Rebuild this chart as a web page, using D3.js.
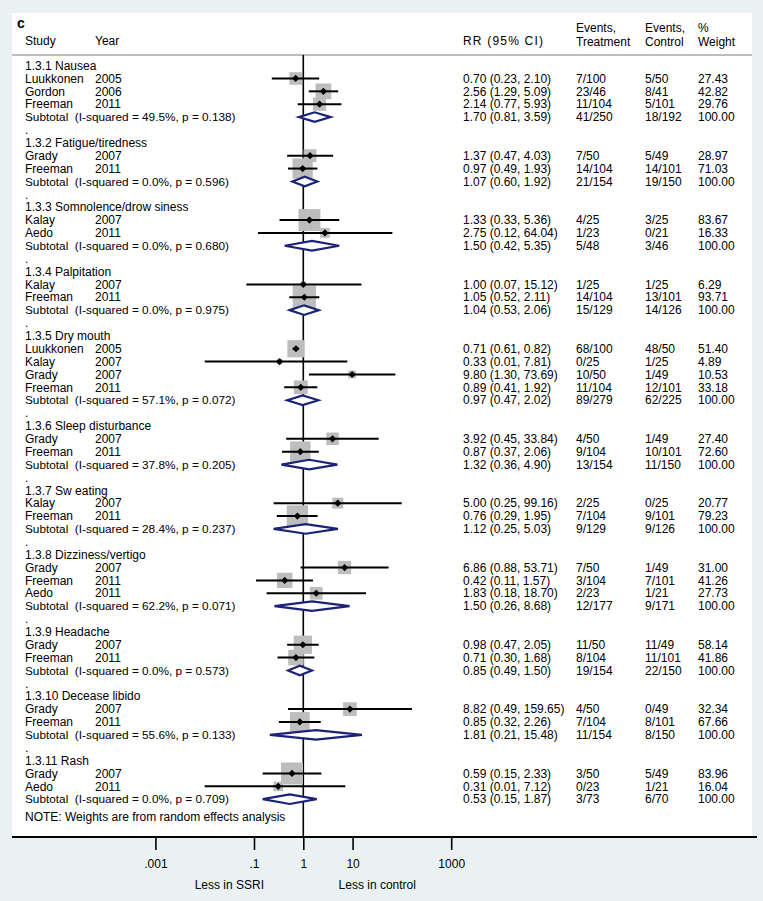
<!DOCTYPE html>
<html><head><meta charset="utf-8">
<script src="https://cdn.jsdelivr.net/npm/d3@7"></script>
<style>
body{margin:0;background:#eaf1f3}
svg{display:block}
text{font-family:"Liberation Sans",Arial,Helvetica,sans-serif;font-size:12px;fill:#000;white-space:pre}
</style>
</head><body>
<svg id="chart" width="763" height="901"></svg>
<script>
// ---------- DATA ----------
const groupLabels = ["1.3.1 Nausea","1.3.2 Fatigue/tiredness","1.3.3 Somnolence/drow siness","1.3.4 Palpitation","1.3.5 Dry mouth","1.3.6 Sleep disturbance","1.3.7 Sw eating","1.3.8 Dizziness/vertigo","1.3.9 Headache","1.3.10 Decease libido","1.3.11 Rash"];
const groupI2 = ["49.5%","0.0%","0.0%","0.0%","57.1%","37.8%","28.4%","62.2%","0.0%","55.6%","0.0%"];
const groupP = ["0.138","0.596","0.680","0.975","0.072","0.205","0.237","0.071","0.573","0.133","0.709"];
const subRR = [1.70,1.07,1.50,1.04,0.97,1.32,1.12,1.50,0.85,1.81,0.53];
const subLo = [0.81,0.60,0.42,0.53,0.47,0.36,0.25,0.26,0.49,0.21,0.15];
const subHi = [3.59,1.92,5.35,2.06,2.02,4.90,5.03,8.68,1.50,15.48,1.87];
const subEvT = ["41/250","21/154","5/48","15/129","89/279","13/154","9/129","12/177","19/154","11/154","3/73"];
const subEvC = ["18/192","19/150","3/46","14/126","62/225","11/150","9/126","9/171","22/150","8/150","6/70"];

const studyGroup = [0,0,0, 1,1, 2,2, 3,3, 4,4,4,4, 5,5, 6,6, 7,7,7, 8,8, 9,9, 10,10];
const studyName = ["Luukkonen","Gordon","Freeman","Grady","Freeman","Kalay","Aedo","Kalay","Freeman","Luukkonen","Kalay","Grady","Freeman","Grady","Freeman","Kalay","Freeman","Grady","Freeman","Aedo","Grady","Freeman","Grady","Freeman","Grady","Aedo"];
const studyYear = ["2005","2006","2011","2007","2011","2007","2011","2007","2011","2005","2007","2007","2011","2007","2011","2007","2011","2007","2011","2011","2007","2011","2007","2011","2007","2011"];
const studyRR = [0.70,2.56,2.14,1.37,0.97,1.33,2.75,1.00,1.05,0.71,0.33,9.80,0.89,3.92,0.87,5.00,0.76,6.86,0.42,1.83,0.98,0.71,8.82,0.85,0.59,0.31];
const studyLo = [0.23,1.29,0.77,0.47,0.49,0.33,0.12,0.07,0.52,0.61,0.01,1.30,0.41,0.45,0.37,0.25,0.29,0.88,0.11,0.18,0.47,0.30,0.49,0.32,0.15,0.01];
const studyHi = [2.10,5.09,5.93,4.03,1.93,5.36,64.04,15.12,2.11,0.82,7.81,73.69,1.92,33.84,2.06,99.16,1.95,53.71,1.57,18.70,2.05,1.68,159.65,2.26,2.33,7.12];
const studyEvT = ["7/100","23/46","11/104","7/50","14/104","4/25","1/23","1/25","14/104","68/100","0/25","10/50","11/104","4/50","9/104","2/25","7/104","7/50","3/104","2/23","11/50","8/104","4/50","7/104","3/50","0/23"];
const studyEvC = ["5/50","8/41","5/101","5/49","14/101","3/25","0/21","1/25","13/101","48/50","1/25","1/49","12/101","1/49","10/101","0/25","9/101","1/49","7/101","1/21","11/49","11/101","0/49","8/101","5/49","1/21"];
const studyWeight = [27.43,42.82,29.76,28.97,71.03,83.67,16.33,6.29,93.71,51.40,4.89,10.53,33.18,27.40,72.60,20.77,79.23,31.00,41.26,27.73,58.14,41.86,32.34,67.66,83.96,16.04];

const tickValues = [0.001,0.1,1,10,1000];
const tickLabels = [".001",".1","1","10","1000"];

// ---------- BUILD ROWS ----------
const rows = [];
groupLabels.forEach((g, gi) => {
  if (gi > 0) rows.push({type:"dot"});
  rows.push({type:"head", label:g});
  studyGroup.forEach((sg, i) => { if (sg === gi) rows.push({type:"study", i}); });
  rows.push({type:"sub", gi});
});

// ---------- LAYOUT ----------
const svg = d3.select("#chart");
const panel = {x0:12, x1:752, y0:13, y1:837};
const x = d3.scaleLog().domain([0.001, 1000]).range([155.4, 451.2]);
const y = d3.scaleLinear().domain([0, 1]).range([65.6, 65.6 + 12.87]);
const box = d3.scaleSqrt().domain([0, 100]).range([0, 24]);
const col = {study:25, year:95, rr:463, evT:576, evC:645, wt:698};
const navy = "#1a2379";

svg.append("rect").attr("x",0).attr("y",0).attr("width",763).attr("height",901).attr("fill","#eaf1f3");
svg.append("rect").attr("x",panel.x0).attr("y",panel.y0).attr("width",panel.x1-panel.x0).attr("height",panel.y1-panel.y0).attr("fill","#fff");

// headers
const T = (xx, yy, s, anchor) => svg.append("text").attr("x",xx).attr("y",yy).attr("dy","0.35em").attr("text-anchor",anchor||"start").text(s);
T(17, 23, "c").style("font-weight","bold").style("font-size","14px");
T(col.study, 41, "Study");
T(col.year, 41, "Year");
T(col.rr, 41, "RR (95% CI)").style("letter-spacing","1.2px");
T(col.evT, 28, "Events,"); T(col.evT, 42, "Treatment");
T(col.evC, 28, "Events,"); T(col.evC, 42, "Control");
T(col.wt, 28, "%"); T(col.wt, 42, "Weight");
svg.append("line").attr("x1",panel.x0).attr("x2",panel.x1).attr("y1",55).attr("y2",55).attr("stroke","#bdbdbd").attr("stroke-width",2);

const fmt = d3.format(".2f");
const ci = (r,l,h) => `${fmt(r)} (${fmt(l)}, ${fmt(h)})`;

// null line
svg.append("line").attr("x1",x(1)).attr("x2",x(1)).attr("y1",55).attr("y2",panel.y1).attr("stroke","#000").attr("stroke-width",1.6);

const g = svg.append("g");
rows.forEach((r, k) => {
  const yy = y(k);
  if (r.type === "dot") { T(col.study, yy, "."); return; }
  if (r.type === "head") { T(col.study, yy, r.label); return; }
  if (r.type === "study") {
    const i = r.i;
    T(col.study, yy, studyName[i]);
    T(col.year, yy, studyYear[i]);
    T(col.rr, yy, ci(studyRR[i], studyLo[i], studyHi[i]));
    T(col.evT, yy, studyEvT[i]);
    T(col.evC, yy, studyEvC[i]);
    T(col.wt, yy, fmt(studyWeight[i]));
    const s = box(studyWeight[i]);
    g.append("rect").attr("x", x(studyRR[i]) - s/2).attr("y", yy - s/2).attr("width", s).attr("height", s).attr("fill","#bdbdbd");
    r.yy = yy;
    return;
  }
  if (r.type === "sub") {
    const gi = r.gi;
    T(col.study, yy, `Subtotal  (I-squared = ${groupI2[gi]}, p = ${groupP[gi]})`).style("font-size","11.8px");
    T(col.rr, yy, ci(subRR[gi], subLo[gi], subHi[gi]));
    T(col.evT, yy, subEvT[gi]);
    T(col.evC, yy, subEvC[gi]);
    T(col.wt, yy, "100.00");
    const h = 4.8;
    svg.append("path")
      .attr("d", `M${x(subLo[gi])},${yy} L${x(subRR[gi])},${yy-h} L${x(subHi[gi])},${yy} L${x(subRR[gi])},${yy+h} Z`)
      .attr("fill","#fff").attr("stroke",navy).attr("stroke-width",2.2);
  }
});
// CI lines and point markers on top of boxes
rows.filter(r => r.type === "study").forEach(r => {
  const i = r.i, yy = r.yy;
  svg.append("line").attr("x1",x(studyLo[i])).attr("x2",x(studyHi[i])).attr("y1",yy).attr("y2",yy).attr("stroke","#000").attr("stroke-width",2);
  const px = x(studyRR[i]), d = 3.6;
  svg.append("path").attr("d",`M${px-d},${yy} L${px},${yy-d} L${px+d},${yy} L${px},${yy+d} Z`).attr("fill","#000");
});

T(col.study, y(rows.length - 1) + 18, "NOTE: Weights are from random effects analysis");

// axis
svg.append("line").attr("x1",panel.x0).attr("x2",757).attr("y1",panel.y1).attr("y2",panel.y1).attr("stroke","#000").attr("stroke-width",1.8);
const axis = d3.axisBottom(x).tickValues(tickValues).tickFormat((d,i) => tickLabels[i]).tickSize(13).tickPadding(9);
const ag = svg.append("g").attr("transform",`translate(0,${panel.y1})`).call(axis);
ag.select(".domain").remove();
ag.selectAll(".tick line").attr("stroke","#000").attr("stroke-width",1.6);
ag.selectAll(".tick text").attr("font-family",null).attr("font-size",null).style("font-size","12px").attr("fill","#000");
svg.append("text").attr("x", x(Math.pow(10,-1.5))).attr("y", 885).attr("dy","0.35em").attr("text-anchor","middle").text("Less in SSRI");
svg.append("text").attr("x", x(Math.pow(10,1.5))).attr("y", 885).attr("dy","0.35em").attr("text-anchor","middle").text("Less in control");
</script>
</body></html>
